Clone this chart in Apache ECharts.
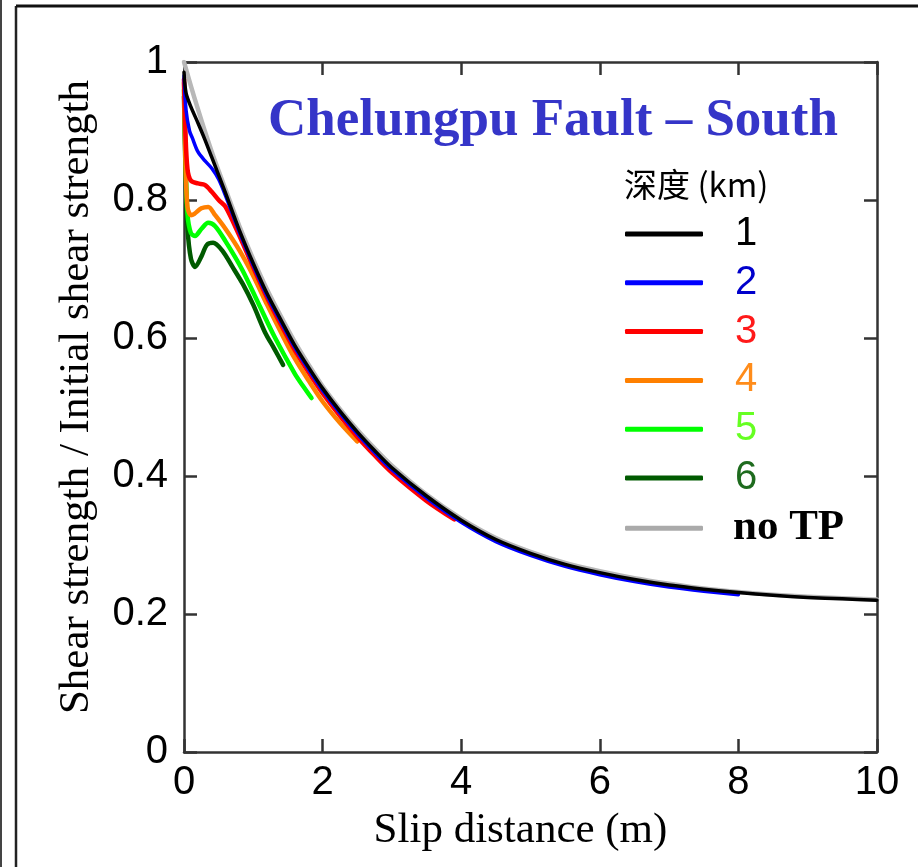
<!DOCTYPE html>
<html>
<head>
<meta charset="utf-8">
<script src="https://cdn.jsdelivr.net/npm/echarts@6/dist/echarts.min.js"></script>
<style>
  html, body { margin: 0; padding: 0; background: #fff; }
  #chart { width: 918px; height: 867px; }
</style>
</head>
<body>
<div id="chart"></div>
<script>
// Shear strength ratio vs. slip distance, per depth (km)
const noTPSlip = [0, 0.1, 0.2, 0.3, 0.4, 0.5, 0.6, 0.8, 1.0, 1.2, 1.4, 1.6, 1.8, 2.0, 2.25, 2.5, 2.75, 3.0, 3.5, 4.0, 4.5, 5.0, 5.5, 6.0, 6.5, 7.0, 7.5, 8.0, 8.5, 9.0, 9.5, 10];
const noTPRatio = [1.0, 0.965, 0.932, 0.9, 0.87, 0.842, 0.815, 0.762, 0.714, 0.67, 0.631, 0.594, 0.561, 0.53, 0.497, 0.467, 0.44, 0.415, 0.373, 0.338, 0.31, 0.29, 0.274, 0.262, 0.252, 0.244, 0.237, 0.232, 0.228, 0.225, 0.223, 0.221];

const d1Slip = [0, 0.03, 0.1, 0.2, 0.3, 0.4, 0.5, 0.6, 0.8, 1.0, 1.2, 1.4, 1.6, 1.8, 2.0, 2.25, 2.5, 2.75, 3.0, 3.5, 4.0, 4.5, 5.0, 5.5, 6.0, 6.5, 7.0, 7.5, 8.0, 8.5, 9.0, 9.5, 10];
const d1Ratio = [0.985, 0.955, 0.935, 0.912, 0.888, 0.862, 0.836, 0.81, 0.756, 0.708, 0.664, 0.626, 0.589, 0.557, 0.527, 0.494, 0.464, 0.437, 0.412, 0.371, 0.336, 0.308, 0.288, 0.272, 0.26, 0.25, 0.242, 0.236, 0.231, 0.227, 0.224, 0.222, 0.22];

const d2Slip = [0, 0.03, 0.08, 0.12, 0.2, 0.3, 0.4, 0.5, 0.6, 0.8, 1.0, 1.2, 1.4, 1.6, 1.8, 2.0, 2.25, 2.5, 2.75, 3.0, 3.5, 4.0, 4.5, 5.0, 5.5, 6.0, 6.5, 7.0, 7.5, 8.0];
const d2Ratio = [0.98, 0.93, 0.9, 0.89, 0.87, 0.857, 0.846, 0.83, 0.806, 0.753, 0.705, 0.661, 0.623, 0.586, 0.554, 0.524, 0.491, 0.461, 0.434, 0.409, 0.368, 0.333, 0.305, 0.285, 0.269, 0.257, 0.247, 0.239, 0.233, 0.228];

const d3Slip = [0, 0.02, 0.05, 0.1, 0.2, 0.3, 0.4, 0.5, 0.6, 0.8, 1.0, 1.2, 1.4, 1.6, 1.8, 2.0, 2.25, 2.5, 2.75, 3.0, 3.5, 3.9];
const d3Ratio = [0.975, 0.9, 0.845, 0.828, 0.824, 0.822, 0.812, 0.8, 0.79, 0.748, 0.702, 0.658, 0.619, 0.582, 0.55, 0.52, 0.487, 0.457, 0.43, 0.405, 0.364, 0.337];

const d4Slip = [0, 0.02, 0.05, 0.1, 0.15, 0.25, 0.35, 0.45, 0.6, 0.8, 1.0, 1.2, 1.4, 1.6, 1.8, 2.0, 2.25, 2.5];
const d4Ratio = [0.97, 0.86, 0.79, 0.778, 0.78, 0.788, 0.79, 0.778, 0.758, 0.727, 0.69, 0.648, 0.608, 0.57, 0.538, 0.508, 0.477, 0.45];

const d5Slip = [0, 0.02, 0.05, 0.1, 0.16, 0.25, 0.35, 0.45, 0.6, 0.84, 1.07, 1.31, 1.6, 1.72, 1.84];
const d5Ratio = [0.96, 0.87, 0.78, 0.752, 0.748, 0.758, 0.767, 0.762, 0.74, 0.699, 0.651, 0.601, 0.548, 0.53, 0.513];

const d6Slip = [0, 0.02, 0.05, 0.1, 0.16, 0.25, 0.33, 0.42, 0.55, 0.7, 0.85, 1.0, 1.17, 1.3, 1.43];
const d6Ratio = [0.95, 0.85, 0.76, 0.715, 0.703, 0.718, 0.735, 0.738, 0.727, 0.703, 0.678, 0.648, 0.608, 0.585, 0.561];

const legendNames = ['1', '2', '3', '4', '5', '6', 'no TP'];

function pairs(xs, ys) { return xs.map((x, i) => [x, ys[i]]); }

const seriesDefs = [
  { name: 'no TP', slip: noTPSlip, ratio: noTPRatio, color: '#b8b8b8', legendColor: '#aaaaaa', width: 4.5 },
  { name: '6', slip: d6Slip, ratio: d6Ratio, color: '#005a00', width: 4.5 },
  { name: '5', slip: d5Slip, ratio: d5Ratio, color: '#00ff00', width: 4.5 },
  { name: '4', slip: d4Slip, ratio: d4Ratio, color: '#ff8000', width: 4.5 },
  { name: '3', slip: d3Slip, ratio: d3Ratio, color: '#ff0000', width: 4.5 },
  { name: '2', slip: d2Slip, ratio: d2Ratio, color: '#0000ff', width: 3.5 },
  { name: '1', slip: d1Slip, ratio: d1Ratio, color: '#000000', width: 3.5 }
];

const labelColors = { '1': '#000000', '2': '#0000cc', '3': '#ff1a1a', '4': '#ff8c1a', '5': '#66ff22', '6': '#1e6b1e', 'no TP': '#000000' };

const axisLine = { show: true, onZero: false, lineStyle: { color: '#333333', width: 2.5 } };
const axisTick = { show: true, inside: true, length: 13, lineStyle: { color: '#333333', width: 2.5 } };
const tickFont = { fontFamily: 'Liberation Sans, Arial, sans-serif', fontSize: 40, color: '#000' };
const fmt = v => String(+(+v).toFixed(1));

const chart = echarts.init(document.getElementById('chart'), null, { renderer: 'canvas' });
chart.setOption({
  backgroundColor: '#ffffff',
  animation: false,
  title: {
    text: 'Chelungpu Fault \u2013 South',
    left: 263, top: 90,
    textStyle: { fontFamily: 'Liberation Serif, Times New Roman, serif', fontWeight: 'bold', fontSize: 53, color: '#3535c8' }
  },
  legend: {
    orient: 'vertical',
    left: 620, top: 209,
    itemWidth: 78, itemHeight: 5,
    itemGap: 8.8,
    icon: 'roundRect',
    selectedMode: false,
    data: legendNames.map(n => ({
      name: n,
      itemStyle: n === 'no TP' ? { color: '#aaaaaa' } : undefined,
      textStyle: n === 'no TP'
        ? { fontFamily: 'Liberation Serif, Times New Roman, serif', fontWeight: 'bold', fontSize: 43, color: '#000', lineHeight: 40, padding: [0, 0, 0, 25] }
        : { fontFamily: 'Liberation Sans, Arial, sans-serif', fontSize: 40, color: labelColors[n], lineHeight: 40, padding: [0, 0, 0, 27] }
    }))
  },
  grid: { left: 184, right: 41, top: 62, bottom: 115, containLabel: false },
  xAxis: [
    {
      type: 'value', min: 0, max: 10, interval: 2, position: 'bottom',
      name: 'Slip distance (m)', nameLocation: 'middle', nameGap: 57,
      nameTextStyle: { fontFamily: 'Liberation Serif, Times New Roman, serif', fontSize: 43, color: '#000', padding: [0, 20, 0, 0] },
      axisLine, axisTick, splitLine: { show: false },
      axisLabel: Object.assign({ margin: 11, formatter: fmt }, tickFont)
    },
    {
      type: 'value', min: 0, max: 10, interval: 2, position: 'top',
      axisLine, axisTick, splitLine: { show: false }, axisLabel: { show: false }
    }
  ],
  yAxis: [
    {
      type: 'value', min: 0, max: 1, interval: 0.2, position: 'left',
      name: 'Shear strength / Initial shear strength', nameLocation: 'middle', nameGap: 86,
      nameTextStyle: { fontFamily: 'Liberation Serif, Times New Roman, serif', fontSize: 43, color: '#000', padding: [0, 0, 0, 20] },
      axisLine, axisTick, splitLine: { show: false },
      axisLabel: Object.assign({ margin: 16, formatter: fmt }, tickFont)
    },
    {
      type: 'value', min: 0, max: 1, interval: 0.2, position: 'right',
      axisLine, axisTick, splitLine: { show: false }, axisLabel: { show: false }
    }
  ],
  graphic: [
    { type: 'text', left: 624, top: 168, style: { text: '深度 (km)', font: '33px "Noto Sans CJK SC", "Liberation Sans", sans-serif', fill: '#000' } },
    { type: 'line', shape: { x1: 1, y1: 0, x2: 1, y2: 867 }, style: { stroke: '#444', lineWidth: 2 } },
    { type: 'line', shape: { x1: 16, y1: 6, x2: 16, y2: 867 }, style: { stroke: '#222', lineWidth: 2.5 } },
    { type: 'line', shape: { x1: 16, y1: 6, x2: 918, y2: 6 }, style: { stroke: '#111', lineWidth: 3 } }
  ],
  series: seriesDefs.map(s => ({
    name: s.name,
    type: 'line',
    xAxisIndex: 0, yAxisIndex: 0,
    data: pairs(s.slip, s.ratio),
    showSymbol: false,
    smooth: 0.3,
    color: s.legendColor || s.color,
    lineStyle: { color: s.color, width: s.width, cap: 'round', join: 'round' },
    silent: true
  }))
});
</script>
</body>
</html>
